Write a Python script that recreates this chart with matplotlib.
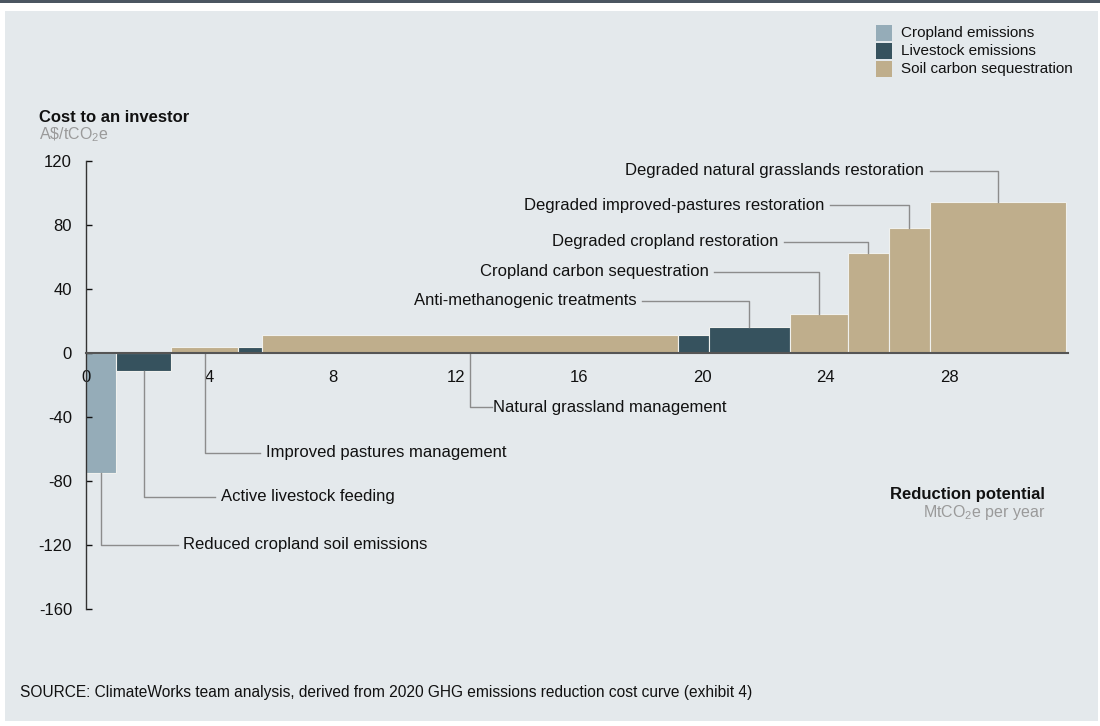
import numpy as np
import matplotlib
matplotlib.use('Agg')
import matplotlib.pyplot as plt
from matplotlib.patches import Rectangle

plt.rcParams['font.family'] = ['Liberation Sans', 'DejaVu Sans']
plt.rcParams['mathtext.fontset'] = 'custom'
plt.rcParams['mathtext.rm'] = 'Liberation Sans'

# ---------------- data ----------------
lever_names = ["Reduced cropland soil emissions", "Active livestock feeding",
               "Improved pastures management", None,
               "Natural grassland management", None,
               "Anti-methanogenic treatments", "Cropland carbon sequestration",
               "Degraded cropland restoration", "Degraded improved-pastures restoration",
               "Degraded natural grasslands restoration"]
lever_groups = ["Cropland emissions", "Livestock emissions", "Soil carbon sequestration",
                "Livestock emissions", "Soil carbon sequestration", "Livestock emissions",
                "Livestock emissions", "Soil carbon sequestration", "Soil carbon sequestration",
                "Soil carbon sequestration", "Soil carbon sequestration"]
potential = [0.98, 1.79, 2.16, 0.79, 13.5, 0.99, 2.63, 1.88, 1.33, 1.33, 4.42]   # MtCO2e per year
cost = [-75, -11, 4, 4, 11, 11, 16.5, 24.6, 62.5, 78.3, 94.4]                   # A$/tCO2e
group_names = ["Cropland emissions", "Livestock emissions", "Soil carbon sequestration"]
x_ticks = [0, 4, 8, 12, 16, 20, 24, 28]
y_ticks = [-160, -120, -80, -40, 0, 40, 80, 120]

# ---------------- style / layout ----------------
colors = {"Cropland emissions": "#95ACB8",
          "Livestock emissions": "#36525E",
          "Soil carbon sequestration": "#BFAE8C"}
BG = "#E4E9EC"
LEADER = "#8C8C8C"
FS = 12
# label placement (index of bar -> (text x, text y)) in data units
label_pos = {0: (3.15, -120), 1: (4.38, -90), 2: (5.83, -62.5), 4: (13.2, -34),
             6: (17.85, 32.5), 7: (20.21, 50.8), 8: (22.45, 69.4),
             9: (23.95, 92.3), 10: (27.19, 113.8)}

W, H = 1100, 726
fig = plt.figure(figsize=(W / 100, H / 100), dpi=100)
fig.patch.set_facecolor("white")
# panel and top band
fig.patches.append(Rectangle((5 / W, 1 - 721 / H), (1098 - 5) / W, (721 - 11) / H,
                             transform=fig.transFigure, facecolor=BG, edgecolor="none", zorder=-10))
fig.patches.append(Rectangle((0, 1 - 2.5 / H), 1, 2.5 / H,
                             transform=fig.transFigure, facecolor="#4B5661", edgecolor="none", zorder=-10))

ax = fig.add_axes([86 / W, 1 - 609 / H, (1068 - 86) / W, (609 - 161) / H])
ax.patch.set_visible(False)

lefts = np.concatenate([[0], np.cumsum(potential)[:-1]])
ax.bar(lefts, cost, width=potential, align="edge",
       color=[colors[g] for g in lever_groups], edgecolor="#F0F1EE", linewidth=0.8)

ax.set_xlim(0, 31.86)
ax.set_ylim(-160, 120)

for s in ["top", "right"]:
    ax.spines[s].set_visible(False)
ax.spines["bottom"].set_position(("data", 0))
ax.spines["bottom"].set_color("#555555")
ax.spines["bottom"].set_linewidth(1.5)
ax.spines["left"].set_color("#333333")
ax.spines["left"].set_linewidth(1.0)

ax.set_xticks(x_ticks)
ax.set_xticklabels([str(v) for v in x_ticks])
ax.set_yticks(y_ticks)
ax.set_yticklabels([str(v) for v in y_ticks])
ax.tick_params(axis="x", length=0, pad=12, labelsize=FS, colors="#111111")
ax.tick_params(axis="y", direction="in", length=4, width=1, pad=10, labelsize=FS,
               colors="#111111")

# leader lines and labels
gap = 0.18
for i, (tx, ty) in label_pos.items():
    xc = lefts[i] + potential[i] / 2
    name = lever_names[i]
    if ty < 0:
        y0 = min(cost[i], 0)
        g = 0.03 if i == 4 else gap
        ax.plot([xc, xc, tx - g], [y0, ty, ty], color=LEADER, lw=1, clip_on=False, zorder=2)
        ax.text(tx, ty, name, ha="left", va="center", fontsize=FS, color="#111111")
    else:
        ax.plot([tx + gap, xc, xc], [ty, ty, cost[i]], color=LEADER, lw=1, clip_on=False, zorder=2)
        ax.text(tx, ty, name, ha="right", va="center", fontsize=FS, color="#111111")

# axis titles
fig.text(39 / W, 1 - 118 / H, "Cost to an investor", fontsize=12, fontweight="bold",
         ha="left", va="center", color="#111111")
fig.text(39 / W, 1 - 135 / H, r"A\$/tCO$_\mathregular{2}$e", fontsize=11.5, ha="left",
         va="center", color="#9A9A9A")
fig.text(1045 / W, 1 - 494 / H, "Reduction potential", fontsize=12, fontweight="bold",
         ha="right", va="center", color="#111111")
fig.text(1045 / W, 1 - 513 / H, r"MtCO$_\mathregular{2}$e per year", fontsize=11.5, ha="right",
         va="center", color="#9A9A9A")

# legend
for k, g in enumerate(group_names):
    yc = 33 + k * 18
    fig.patches.append(Rectangle((876 / W, 1 - (yc + 7.5) / H), 16 / W, 15 / H,
                                 transform=fig.transFigure, facecolor=colors[g],
                                 edgecolor="none", zorder=1))
    fig.text(901 / W, 1 - yc / H, g, fontsize=11, ha="left", va="center", color="#111111")

# source
fig.text(20 / W, 1 - 692 / H,
         "SOURCE: ClimateWorks team analysis, derived from 2020 GHG emissions reduction cost curve (exhibit 4)",
         fontsize=11.2, ha="left", va="center", color="#111111")

fig.savefig("out.png", dpi=100, facecolor=fig.get_facecolor())
